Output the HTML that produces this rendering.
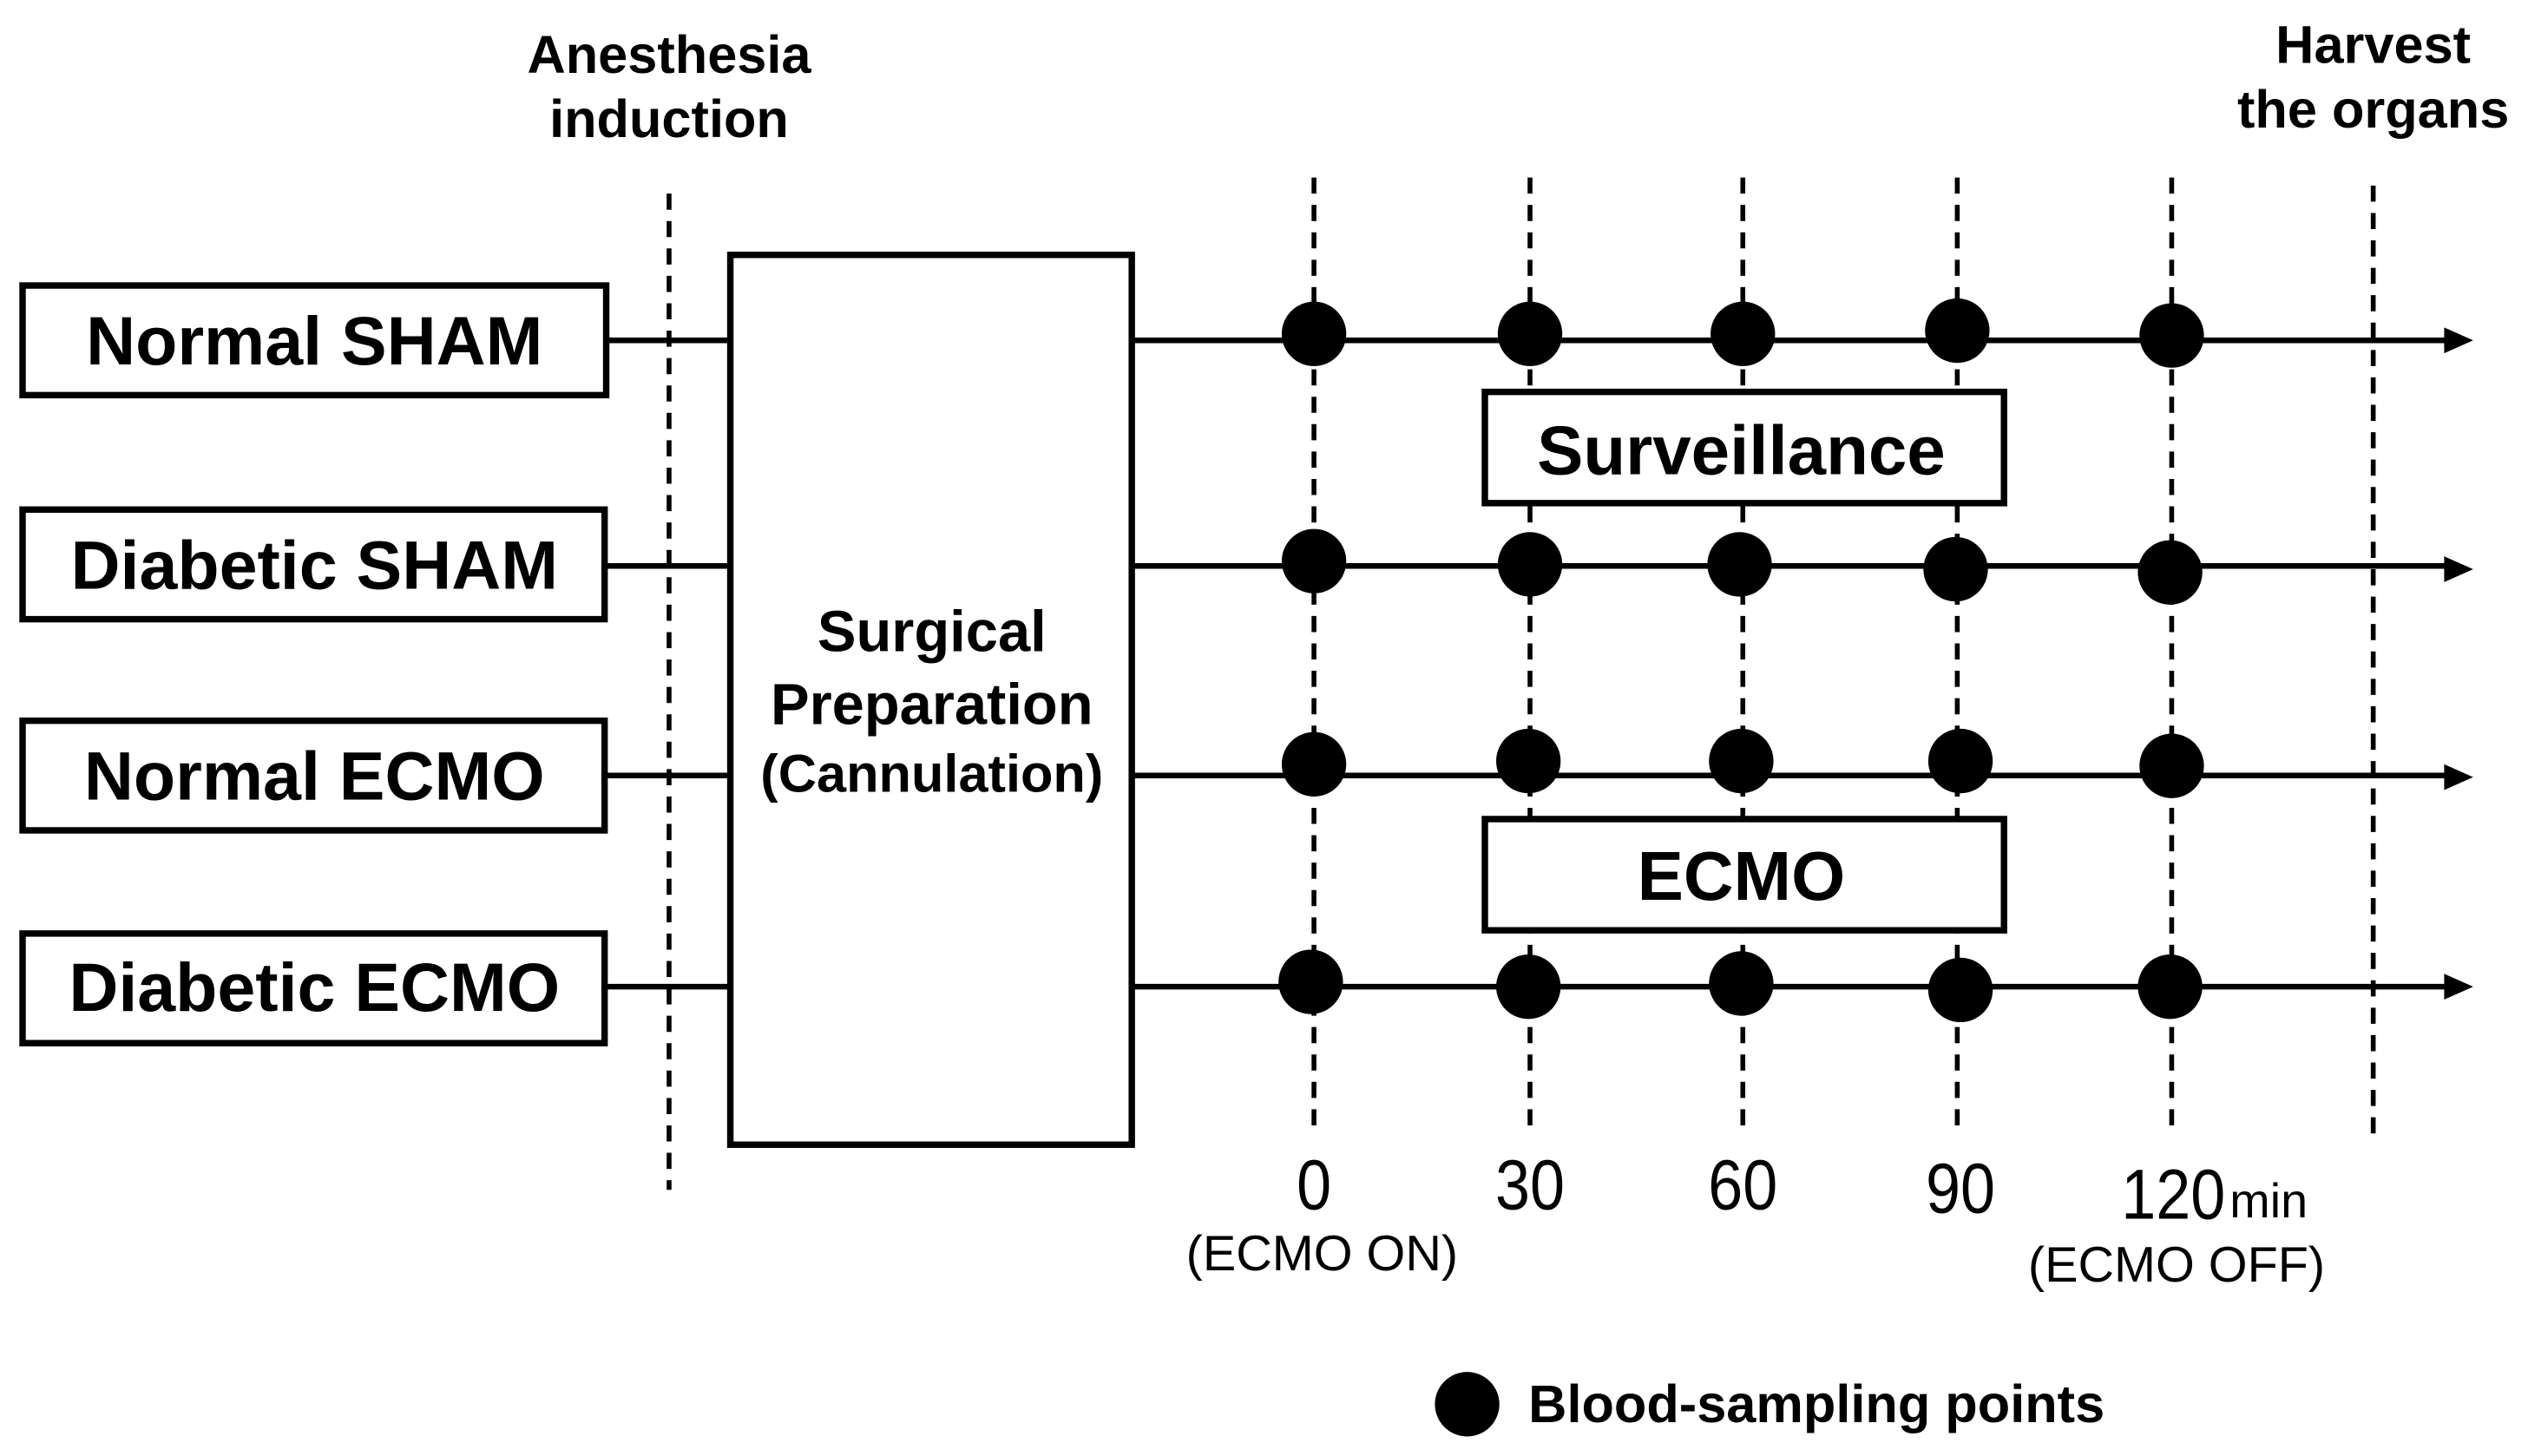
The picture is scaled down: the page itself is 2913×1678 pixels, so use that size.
<!DOCTYPE html>
<html><head><meta charset="utf-8"><style>
html,body{margin:0;padding:0;background:#fff;}
svg{display:block;}
text{font-family:"Liberation Sans",Arial,sans-serif;fill:#000;}
.b{font-weight:bold;}
</style></head><body>
<svg width="2913" height="1678" viewBox="0 0 1568 903" xmlns="http://www.w3.org/2000/svg">
<g stroke="#000" stroke-width="3" stroke-dasharray="10,7" fill="none">
<line x1="415" y1="120" x2="415" y2="738"/>
<line x1="1472" y1="115" x2="1472" y2="705"/>
<line x1="815" y1="110" x2="815" y2="705"/>
<line x1="949" y1="110" x2="949" y2="705"/>
<line x1="1081" y1="110" x2="1081" y2="705"/>
<line x1="1214" y1="110" x2="1214" y2="705"/>
<line x1="1347" y1="110" x2="1347" y2="705"/>
</g>
<g stroke="#000" stroke-width="3.5">
<line x1="376" y1="211" x2="453" y2="211"/>
<line x1="376" y1="351" x2="453" y2="351"/>
<line x1="376" y1="481" x2="453" y2="481"/>
<line x1="376" y1="612" x2="453" y2="612"/>
<line x1="702" y1="211" x2="1520" y2="211"/>
<line x1="702" y1="351" x2="1520" y2="351"/>
<line x1="702" y1="481" x2="1520" y2="481"/>
<line x1="702" y1="612" x2="1520" y2="612"/>
</g>
<g fill="#000">
<polygon points="1534,211 1516,203 1516,219"/>
<polygon points="1534,353 1516,345 1516,361"/>
<polygon points="1534,482 1516,474 1516,490"/>
<polygon points="1534,612 1516,604 1516,620"/>
<circle cx="815" cy="207" r="20"/><circle cx="949" cy="207" r="20"/><circle cx="1081" cy="207" r="20"/><circle cx="1214" cy="205" r="20"/><circle cx="1347" cy="208" r="20"/>
<circle cx="815" cy="348" r="20"/><circle cx="949" cy="350" r="20"/><circle cx="1079" cy="350" r="20"/><circle cx="1213" cy="353" r="20"/><circle cx="1346" cy="355" r="20"/>
<circle cx="815" cy="474" r="20"/><circle cx="948" cy="472" r="20"/><circle cx="1080" cy="472" r="20"/><circle cx="1216" cy="472" r="20"/><circle cx="1347" cy="475" r="20"/>
<circle cx="813" cy="609" r="20"/><circle cx="948" cy="612" r="20"/><circle cx="1080" cy="610" r="20"/><circle cx="1216" cy="614" r="20"/><circle cx="1346" cy="612" r="20"/>
<circle cx="910" cy="871" r="20"/>
</g>
<g fill="#fff" stroke="#000" stroke-width="4">
<rect x="14" y="177" width="362" height="68"/>
<rect x="14" y="316" width="361" height="68"/>
<rect x="14" y="447" width="361" height="68"/>
<rect x="14" y="579" width="361" height="68"/>
<rect x="453" y="158" width="249" height="552"/>
<rect x="921" y="243" width="322" height="69"/>
<rect x="921" y="508" width="322" height="69"/>
</g>
<g class="b" font-size="42.5" text-anchor="middle">
<text x="195" y="226" class="b">Normal SHAM</text>
<text x="195" y="365" class="b">Diabetic SHAM</text>
<text x="195" y="496" class="b">Normal ECMO</text>
<text x="195" y="627" class="b">Diabetic ECMO</text>
<text x="1080" y="294" class="b" font-size="43">Surveillance</text>
<text x="1080" y="558" class="b" font-size="43">ECMO</text>
</g>
<g text-anchor="middle">
<text x="578" y="404" class="b" font-size="36">Surgical</text>
<text x="578" y="449" class="b" font-size="36">Preparation</text>
<text x="578" y="491" class="b" font-size="33">(Cannulation)</text>
<text x="415" y="45" class="b" font-size="33">Anesthesia</text>
<text x="415" y="85" class="b" font-size="33">induction</text>
<text x="1472" y="39" class="b" font-size="33">Harvest</text>
<text x="1472" y="79" class="b" font-size="33">the organs</text>
</g>
<g text-anchor="middle" font-size="44">
<text x="815" y="750" transform="translate(815 0) scale(0.88 1) translate(-815 0)">0</text>
<text x="949" y="750" transform="translate(949 0) scale(0.88 1) translate(-949 0)">30</text>
<text x="1081" y="750" transform="translate(1081 0) scale(0.88 1) translate(-1081 0)">60</text>
<text x="1216" y="752" transform="translate(1216 0) scale(0.88 1) translate(-1216 0)">90</text>
<text x="1348" y="756" transform="translate(1348 0) scale(0.88 1) translate(-1348 0)">120</text>
<text x="1383" y="755" text-anchor="start" font-size="30">min</text>
<text x="820" y="788" font-size="31">(ECMO ON)</text>
<text x="1350" y="795" font-size="31">(ECMO OFF)</text>
</g>
<text x="948" y="882" class="b" font-size="33">Blood-sampling points</text>
</svg>
</body></html>
